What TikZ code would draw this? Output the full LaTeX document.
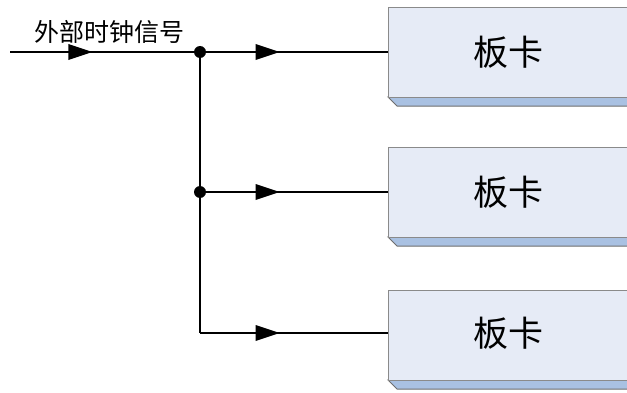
\documentclass[tikz,border=0pt]{standalone}
\usepackage{fontspec}
\newfontfamily\cjk{Noto Sans CJK SC}
\usetikzlibrary{decorations.markings}
\definecolor{boxface}{HTML}{E6EBF6}
\definecolor{boxedge}{HTML}{8A8A8A}
\definecolor{boxband}{HTML}{A9C1E2}
\tikzset{
  x=1pt, y=1pt,
  wire/.style={line width=1.7pt},
  midarrow/.style={decoration={markings, mark=at position #1 with {\fill (-12,0) -- (12,0) -- (-12,8) -- cycle; \fill (-12,0) -- (12,0) -- (-12,-8) -- cycle;}}, postaction={decorate}},
  junction/.style={circle, fill=black, inner sep=0pt, minimum size=12pt},
  cardlabel/.style={font=\cjk\fontsize{35}{35}\selectfont, inner sep=0pt},
}
\begin{document}
\begin{tikzpicture}
\clip (0,0) rectangle (627,392);
\useasboundingbox (0,0) rectangle (627,392);
% boxes
\foreach \t in {385, 245, 102}{
  \fill[boxband, draw=boxedge!80!black, line width=1pt] (388,\t-90) -- (640,\t-90) -- (640,\t-99) -- (397,\t-99) -- cycle;
  \fill[boxface, draw=boxedge, line width=0.8pt] (388,\t) rectangle (640,\t-90);
}
\node[cardlabel] (ca) at (508,340) {板卡};
\node[cardlabel] (cb) at (508,200) {板卡};
\node[cardlabel] (cc) at (508,59) {板卡};
\coordinate (in) at (10,340);
\coordinate (p1) at (200,340);
\coordinate (p2) at (200,200);
\coordinate (corner) at (200,59);
\coordinate (ea) at (388,340);
\coordinate (eb) at (388,200);
\coordinate (ec) at (388,59);
\draw[wire, midarrow=0.37] (in) -- (p1);
\draw[wire, midarrow=0.36] (p1) -- (ea);
\draw[wire, midarrow=0.36] (p2) -- (eb);
\draw[wire, midarrow=0.36] (corner) -- (ec);
\draw[wire] (p1) -- (corner);
\node[junction] (j1) at (p1) {};
\node[junction] (j2) at (p2) {};
\node[font=\cjk\fontsize{25}{25}\selectfont, inner sep=0pt, anchor=west] (lbl) at (34,360) {外部时钟信号};
\end{tikzpicture}
\end{document}
